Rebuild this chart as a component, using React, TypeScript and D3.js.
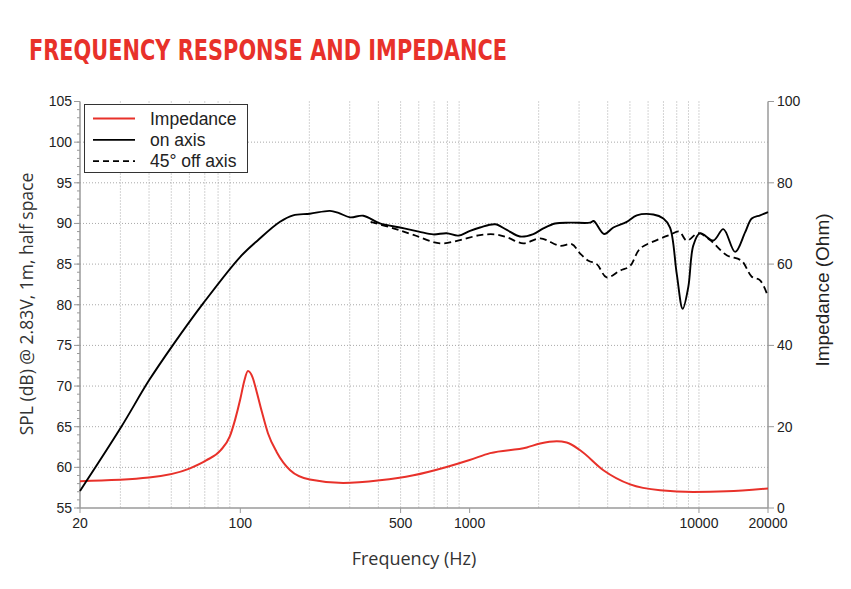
import React, { useEffect, useRef } from "react";
import * as d3 from "d3";

// On-axis SPL (dB)
const onAxisFreq = [20, 30, 40, 51, 69, 100, 120, 149, 170, 201, 246, 268, 301, 344, 406, 497, 600, 694, 794, 893, 1004, 1110, 1292, 1453, 1658, 1896, 2096, 2359, 2742, 3350, 3475, 3856, 4234, 4843, 5357, 6325, 6997, 7480, 8000, 8495, 8986, 9450, 10110, 11560, 12770, 14380, 15890, 16990, 18480, 20000];
const onAxisSpl = [57.1, 64.8, 70.7, 75.1, 80.2, 85.9, 88.0, 90.2, 91.0, 91.2, 91.55, 91.3, 90.75, 90.95, 90.0, 89.5, 89.0, 88.65, 88.8, 88.5, 89.1, 89.5, 89.9, 89.2, 88.4, 88.7, 89.4, 90.0, 90.1, 90.1, 90.3, 88.7, 89.5, 90.2, 91.0, 91.1, 90.6, 89.5, 83.8, 79.5, 82.2, 87.3, 88.8, 87.9, 89.3, 86.5, 88.9, 90.6, 91.0, 91.4];

// 45° off axis SPL (dB)
const offAxisFreq = [370, 465, 569, 743, 908, 1110, 1292, 1453, 1716, 2030, 2479, 2787, 3034, 3297, 3584, 3960, 4528, 5000, 5535, 6548, 7480, 8200, 8843, 9945, 11180, 13210, 15350, 16990, 18480, 20000];
const offAxisSpl = [90.2, 89.4, 88.6, 87.55, 87.95, 88.57, 88.65, 88.3, 87.55, 88.17, 87.25, 87.46, 86.3, 85.4, 85.0, 83.36, 84.2, 84.75, 86.9, 87.95, 88.6, 89.0, 87.9, 88.8, 87.95, 86.1, 85.4, 83.45, 83.0, 81.0];

// Impedance (Ohm)
const impFreq = [20, 40, 60, 71, 82, 90, 95, 100, 104, 108, 113, 118, 124, 132, 144, 165, 201, 281, 406, 569, 794, 1000, 1228, 1775, 2030, 2398, 2650, 3034, 3830, 5011, 6774, 9450, 13210, 20000];
const impOhm = [6.6, 7.5, 9.7, 11.7, 14.2, 17.6, 21.8, 26.8, 31.2, 33.7, 32.2, 28.5, 23.8, 18.4, 13.8, 9.3, 7.0, 6.15, 6.8, 8.05, 10.1, 11.8, 13.5, 14.9, 15.85, 16.4, 16.1, 14.2, 9.3, 5.8, 4.35, 3.95, 4.1, 4.8];

const freqTicks = [20, 100, 500, 1000, 10000, 20000];
const splTicks = [55, 60, 65, 70, 75, 80, 85, 90, 95, 100, 105];
const ohmTicks = [0, 20, 40, 60, 80, 100];

const legendItems = [
  { label: "Impedance", color: "#e8312a", dash: null },
  { label: "on axis", color: "#000", dash: null },
  { label: "45° off axis", color: "#000", dash: "6,4" },
];

const App = () => {
  const ref = useRef<SVGSVGElement | null>(null);

  useEffect(() => {
    const svg = d3.select(ref.current);
    svg.selectAll("*").remove();

    const left = 80;
    const right = 768;
    const top = 101.5;
    const bottom = 508;
    const red = "#e8312a";
    const axisColor = "#9a9a9a";
    const helv = "'Liberation Sans', Arial, sans-serif";

    const x = d3.scaleLog().domain([20, 20000]).range([left, right]);
    const y = d3.scaleLinear().domain([55, 105]).range([bottom, top]);
    const yR = d3.scaleLinear().domain([0, 100]).range([bottom, top]);

    // title
    svg
      .append("text")
      .attr("x", 29)
      .attr("y", 60)
      .attr("textLength", 478)
      .attr("lengthAdjust", "spacingAndGlyphs")
      .style("font-family", "'Liberation Sans Narrow', 'DejaVu Sans Condensed', sans-serif")
      .style("font-weight", "bold")
      .style("font-size", "29px")
      .style("fill", red)
      .text("FREQUENCY RESPONSE AND IMPEDANCE");

    // dotted grid
    const grid = svg.append("g").attr("stroke", "#a8a8a8").attr("stroke-dasharray", "1,2");
    const gridFreqs = d3.range(3, 10).map((d) => d * 10)
      .concat(d3.range(2, 10).map((d) => d * 100))
      .concat(d3.range(2, 10).map((d) => d * 1000))
      .concat([10000]);
    grid
      .selectAll("line.v")
      .data(gridFreqs)
      .join("line")
      .attr("class", "v")
      .attr("x1", (d) => x(d))
      .attr("x2", (d) => x(d))
      .attr("y1", top)
      .attr("y2", bottom);
    grid
      .selectAll("line.h")
      .data(splTicks.slice(1, -1))
      .join("line")
      .attr("class", "h")
      .attr("x1", left)
      .attr("x2", right)
      .attr("y1", (d) => y(d))
      .attr("y2", (d) => y(d));

    // axes
    const axes = svg.append("g").attr("stroke", axisColor).attr("stroke-width", 1.5);
    axes.append("line").attr("x1", left).attr("x2", left).attr("y1", top).attr("y2", bottom);
    axes.append("line").attr("x1", right).attr("x2", right).attr("y1", top).attr("y2", bottom);
    axes.append("line").attr("x1", left).attr("x2", right).attr("y1", bottom).attr("y2", bottom);

    const ticks = svg.append("g").attr("stroke", axisColor).attr("stroke-width", 1);
    ticks
      .selectAll("line.minor")
      .data(d3.range(55, 106))
      .join("line")
      .attr("class", "minor")
      .attr("x1", left - 3)
      .attr("x2", left)
      .attr("y1", (d) => y(d))
      .attr("y2", (d) => y(d));
    ticks
      .selectAll("line.lmaj")
      .data(splTicks)
      .join("line")
      .attr("class", "lmaj")
      .attr("x1", left - 6)
      .attr("x2", left)
      .attr("y1", (d) => y(d))
      .attr("y2", (d) => y(d));
    ticks
      .selectAll("line.rmaj")
      .data(ohmTicks)
      .join("line")
      .attr("class", "rmaj")
      .attr("x1", right)
      .attr("x2", right + 6)
      .attr("y1", (d) => yR(d))
      .attr("y2", (d) => yR(d));
    ticks
      .selectAll("line.xmaj")
      .data(freqTicks)
      .join("line")
      .attr("class", "xmaj")
      .attr("x1", (d) => x(d))
      .attr("x2", (d) => x(d))
      .attr("y1", bottom)
      .attr("y2", bottom + 5);

    // tick labels
    svg
      .append("g")
      .selectAll("text")
      .data(splTicks)
      .join("text")
      .attr("x", 72)
      .attr("y", (d) => y(d))
      .attr("dy", "0.35em")
      .attr("text-anchor", "end")
      .style("font-family", helv)
      .style("font-size", "14px")
      .style("fill", "#222")
      .text((d) => d);
    svg
      .append("g")
      .selectAll("text")
      .data(ohmTicks)
      .join("text")
      .attr("x", 777)
      .attr("y", (d) => yR(d))
      .attr("dy", "0.35em")
      .style("font-family", helv)
      .style("font-size", "14px")
      .style("fill", "#222")
      .text((d) => d);
    svg
      .append("g")
      .selectAll("text")
      .data(freqTicks)
      .join("text")
      .attr("x", (d) => x(d))
      .attr("y", 528)
      .attr("text-anchor", "middle")
      .style("font-family", helv)
      .style("font-size", "14px")
      .style("fill", "#222")
      .text((d) => d);

    // axis titles
    svg
      .append("text")
      .attr("x", 414)
      .attr("y", 565)
      .attr("text-anchor", "middle")
      .style("font-family", "'Open Sans', sans-serif")
      .style("font-size", "18px")
      .style("fill", "#333")
      .text("Frequency (Hz)");
    svg
      .append("text")
      .attr("transform", "translate(33,304) rotate(-90)")
      .attr("text-anchor", "middle")
      .style("font-family", "'Open Sans', sans-serif")
      .style("font-size", "17.5px")
      .style("fill", "#333")
      .text("SPL (dB) @ 2.83V, 1m, half space");
    svg
      .append("text")
      .attr("transform", "translate(829,290) rotate(-90)")
      .attr("text-anchor", "middle")
      .style("font-family", helv)
      .style("font-size", "19px")
      .style("fill", "#222")
      .text("Impedance (Ohm)");

    // curves
    const splLine = d3
      .line<[number, number]>()
      .x((d) => x(d[0]))
      .y((d) => y(d[1]))
      .curve(d3.curveCatmullRom.alpha(0.5));
    const ohmLine = d3
      .line<[number, number]>()
      .x((d) => x(d[0]))
      .y((d) => yR(d[1]))
      .curve(d3.curveMonotoneX);

    const plot = svg.append("g").attr("fill", "none").attr("stroke-linejoin", "round");
    plot
      .append("path")
      .attr("d", ohmLine(d3.zip(impFreq, impOhm) as [number, number][]))
      .attr("stroke", red)
      .attr("stroke-width", 2);
    plot
      .append("path")
      .attr("d", splLine(d3.zip(offAxisFreq, offAxisSpl) as [number, number][]))
      .attr("stroke", "#000")
      .attr("stroke-width", 1.8)
      .attr("stroke-dasharray", "7,4");
    plot
      .append("path")
      .attr("d", splLine(d3.zip(onAxisFreq, onAxisSpl) as [number, number][]))
      .attr("stroke", "#000")
      .attr("stroke-width", 1.9);

    // legend
    const legend = svg.append("g").attr("transform", "translate(84.5,104.5)");
    legend
      .append("rect")
      .attr("width", 163)
      .attr("height", 68)
      .attr("fill", "#fff")
      .attr("stroke", "#333")
      .attr("stroke-width", 1);
    const rows = legend
      .selectAll("g")
      .data(legendItems)
      .join("g")
      .attr("transform", (d, i) => `translate(0,${14 + i * 21.3})`);
    rows
      .append("line")
      .attr("x1", 8.5)
      .attr("x2", 50.5)
      .attr("stroke", (d) => d.color)
      .attr("stroke-width", 1.8)
      .attr("stroke-dasharray", (d) => d.dash);
    rows
      .append("text")
      .attr("x", 65.5)
      .attr("dy", "0.35em")
      .style("font-family", helv)
      .style("font-size", "17.5px")
      .style("fill", "#222")
      .text((d) => d.label);
  }, []);

  return (
    <svg
      ref={ref}
      width={851}
      height={589}
      style={{ position: "absolute", left: 0, top: 0, background: "#fff" }}
    />
  );
};

export default App;
